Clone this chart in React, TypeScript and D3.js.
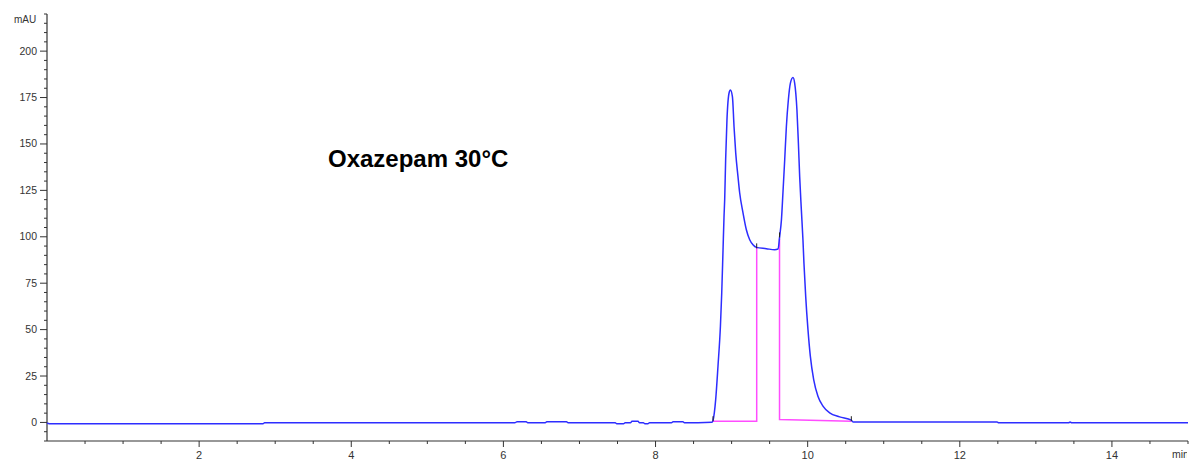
import * as d3 from "d3";

// chromatogram trace (min, mAU)
const traceTime = [
  0, 0.03, 2.84, 2.86, 6.15, 6.18, 6.3, 6.32, 6.55, 6.57, 6.83, 6.85, 7.47, 7.49, 7.58, 7.6, 7.67, 7.69,
  7.77, 7.79, 7.84, 7.86, 7.9, 7.92, 8.21, 8.23, 8.36, 8.38, 8.74,
  8.756, 8.791, 8.821, 8.853, 8.87, 8.887, 8.9, 8.909, 8.922, 8.939, 8.966, 8.984, 9.011, 9.032, 9.054, 9.084,
  9.106, 9.15, 9.194, 9.238, 9.281, 9.326, 9.457, 9.566, 9.61, 9.632, 9.655, 9.675, 9.698, 9.72,
  9.746, 9.773, 9.807, 9.829, 9.859, 9.878, 9.895, 9.917, 9.938, 9.951, 9.974, 10.004, 10.035,
  10.079, 10.135, 10.201, 10.289, 10.42, 10.574, 10.6, 12.49, 12.51, 13.43, 13.45, 13.47, 15,
];
const traceSignal = [
  -0.2, -0.7, -0.7, -0.2, -0.2, 0.4, 0.4, -0.2, -0.2, 0.4, 0.4, -0.2, -0.2, -0.7, -0.7, -0.2, -0.2, 0.6,
  0.6, -0.2, -0.2, -0.7, -0.7, -0.2, -0.2, 0.4, 0.4, -0.2, 0.1,
  1.2, 12.4, 30.3, 51.8, 69.4, 92.5, 110.4, 119.9, 141.9, 162.9, 177.3, 179.0, 175.4, 159.3, 145.2, 132.4,
  123.7, 112.9, 103.8, 98.4, 95.7, 94.3, 93.6, 93.0, 93.4, 100.2, 109.1, 123.7, 141.4, 159.3,
  173.7, 182.8, 185.8, 182.8, 168.3, 150.5, 132.4, 114.5, 98.4, 85.9, 67.9, 50.0, 35.7,
  23.1, 14.1, 8.8, 5.2, 3.0, 1.2, 0.2, 0.2, -0.2, -0.2, 0.3, -0.2, -0.2,
];

// integration baselines / drop lines
const dropLine1: [number, number][] = [[8.756, 0.7], [9.33, 0.7], [9.33, 94.3]];
const dropLine2: [number, number][] = [[9.63, 99], [9.63, 1.6], [10.574, 0.7]];

// peak start/end markers
const markTime = [8.756, 9.33, 9.63, 10.574];
const markSignal = [1.2, 94.3, 100.2, 1.2];

const xLabels = [2, 4, 6, 8, 10, 12, 14];
const yLabels = [0, 25, 50, 75, 100, 125, 150, 175, 200];

const W = 1193;
const H = 462;

export default function App() {
  const x = d3.scaleLinear().domain([0, 15]).range([47, 1188]);
  const y = d3.scaleLinear().domain([-10, 220]).range([441, 14]);

  const line = d3
    .line<[number, number]>()
    .x(d => x(d[0]))
    .y(d => y(d[1]))
    .curve(d3.curveMonotoneX);
  const straight = d3
    .line<[number, number]>()
    .x(d => x(d[0]))
    .y(d => y(d[1]));

  const trace: [number, number][] = traceTime.map((t, i) => [t, traceSignal[i]]);

  const xMinor = d3.range(1, 31).map(i => i * 0.5).filter(v => !xLabels.includes(v));
  const yMinor = d3.range(-2, 45).map(i => i * 5).filter(v => !yLabels.includes(v));

  const axisColor = "#333";
  const font = "'Liberation Sans', Arial, sans-serif";

  return (
    <svg width={W} height={H} style={{ position: "absolute", left: 0, top: 0, background: "#fff" }}>
      <defs>
        <clipPath id="edge">
          <rect x={0} y={0} width={1187} height={H} />
        </clipPath>
      </defs>

      {/* y axis */}
      <line x1={47} x2={47} y1={y(220)} y2={y(-10)} stroke={axisColor} strokeWidth={1.2} />
      {yMinor.map(v => (
        <line key={"ym" + v} x1={44} x2={47} y1={y(v)} y2={y(v)} stroke={axisColor} />
      ))}
      {yLabels.map(v => (
        <g key={"yl" + v}>
          <line x1={40} x2={47} y1={y(v)} y2={y(v)} stroke={axisColor} />
          <text x={37} y={y(v) + 3.5} textAnchor="end" fontSize={10.5} fontFamily={font} fill={axisColor}>
            {v}
          </text>
        </g>
      ))}
      <text x={14} y={23} fontSize={10} fontFamily={font} fill={axisColor}>
        mAU
      </text>

      {/* x axis */}
      <line x1={47} x2={1188} y1={441} y2={441} stroke={axisColor} strokeWidth={1.2} />
      {xMinor.map(v => (
        <line key={"xm" + v} x1={x(v)} x2={x(v)} y1={441} y2={444} stroke={axisColor} />
      ))}
      {xLabels.map(v => (
        <g key={"xl" + v}>
          <line x1={x(v)} x2={x(v)} y1={441} y2={447} stroke={axisColor} />
          <text x={x(v)} y={459} textAnchor="middle" fontSize={11} fontFamily={font} fill={axisColor}>
            {v}
          </text>
        </g>
      ))}
      <g clipPath="url(#edge)">
        <text x={1172} y={458} fontSize={10.5} fontFamily={font} fill={axisColor}>
          min
        </text>
      </g>

      {/* baselines */}
      <path d={straight(dropLine1) ?? ""} fill="none" stroke="#ff4dff" strokeWidth={1.5} />
      <path d={straight(dropLine2) ?? ""} fill="none" stroke="#ff4dff" strokeWidth={1.5} />

      {/* trace */}
      <path d={line(trace) ?? ""} fill="none" stroke="#2d2dff" strokeWidth={1.5} strokeLinejoin="round" />

      {/* peak markers */}
      {markTime.map((t, i) => (
        <line
          key={"mk" + i}
          x1={x(t)}
          x2={x(t)}
          y1={y(markSignal[i]) - 4}
          y2={y(markSignal[i]) + 1}
          stroke="#222"
          strokeWidth={1}
        />
      ))}

      <text x={328} y={167} fontSize={24} fontWeight="bold" fontFamily={font} fill="#000">
        Oxazepam 30°C
      </text>
    </svg>
  );
}
